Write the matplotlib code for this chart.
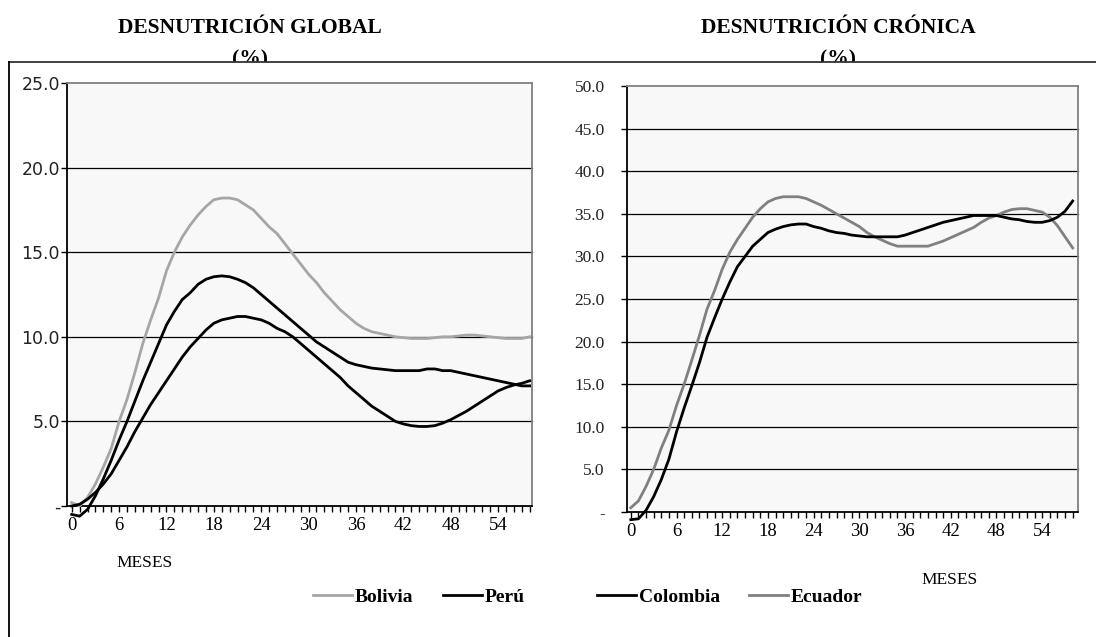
import numpy as np
import matplotlib
matplotlib.use("Agg")
import matplotlib.pyplot as plt
from matplotlib.lines import Line2D
from matplotlib.patches import Rectangle
from matplotlib.ticker import MultipleLocator, FuncFormatter

meses = list(range(0, 59))

# Desnutricion global (%)
bolivia_global = [0.2, 0.0, 0.5, 1.3, 2.3, 3.4, 5.0, 6.3, 7.9, 9.6,
                  11.0, 12.3, 13.9, 15.0, 15.9, 16.6, 17.2, 17.7, 18.1, 18.2,
                  18.2, 18.1, 17.8, 17.5, 17.0, 16.5, 16.1, 15.5, 14.9, 14.3,
                  13.7, 13.2, 12.6, 12.1, 11.6, 11.2, 10.8, 10.5, 10.3, 10.2,
                  10.1, 10.0, 9.95, 9.9, 9.9, 9.9, 9.95, 10.0, 10.0, 10.05,
                  10.1, 10.1, 10.05, 10.0, 9.95, 9.9, 9.9, 9.9, 10.0]
peru_global = [-0.5, -0.6, -0.2, 0.6, 1.6, 2.7, 3.9, 5.0, 6.2, 7.4,
               8.5, 9.6, 10.7, 11.5, 12.2, 12.6, 13.1, 13.4, 13.55, 13.6,
               13.55, 13.4, 13.2, 12.9, 12.5, 12.1, 11.7, 11.3, 10.9, 10.5,
               10.1, 9.7, 9.4, 9.1, 8.8, 8.5, 8.35, 8.25, 8.15, 8.1,
               8.05, 8.0, 8.0, 8.0, 8.0, 8.1, 8.1, 8.0, 8.0, 7.9,
               7.8, 7.7, 7.6, 7.5, 7.4, 7.3, 7.2, 7.1, 7.1]
colombia_global = [0.0, 0.1, 0.4, 0.8, 1.3, 1.9, 2.7, 3.5, 4.4, 5.2,
                   6.0, 6.7, 7.4, 8.1, 8.8, 9.4, 9.9, 10.4, 10.8, 11.0,
                   11.1, 11.2, 11.2, 11.1, 11.0, 10.8, 10.5, 10.3, 10.0, 9.6,
                   9.2, 8.8, 8.4, 8.0, 7.6, 7.1, 6.7, 6.3, 5.9, 5.6,
                   5.3, 5.0, 4.85, 4.75, 4.7, 4.7, 4.75, 4.9, 5.1, 5.35,
                   5.6, 5.9, 6.2, 6.5, 6.8, 7.0, 7.15, 7.25, 7.4]

# Desnutricion cronica (%)
ecuador_cronica = [0.5, 1.3, 3.0, 5.0, 7.5, 9.6, 12.5, 15.0, 17.8, 20.7,
                   23.8, 26.0, 28.5, 30.5, 32.0, 33.3, 34.6, 35.6, 36.4, 36.8,
                   37.0, 37.0, 37.0, 36.8, 36.4, 36.0, 35.5, 35.0, 34.5, 34.0,
                   33.5, 32.8, 32.3, 31.9, 31.5, 31.2, 31.2, 31.2, 31.2, 31.2,
                   31.5, 31.8, 32.2, 32.6, 33.0, 33.4, 34.0, 34.5, 34.8, 35.2,
                   35.5, 35.6, 35.6, 35.4, 35.2, 34.6, 33.6, 32.3, 31.0]
colombia_cronica = [-0.9, -0.8, 0.2, 1.8, 3.8, 6.2, 9.4, 12.2, 14.8, 17.5,
                    20.5, 22.8, 25.0, 27.0, 28.8, 30.0, 31.2, 32.0, 32.8, 33.2,
                    33.5, 33.7, 33.8, 33.8, 33.5, 33.3, 33.0, 32.8, 32.7, 32.5,
                    32.4, 32.3, 32.3, 32.3, 32.3, 32.3, 32.5, 32.8, 33.1, 33.4,
                    33.7, 34.0, 34.2, 34.4, 34.6, 34.8, 34.8, 34.8, 34.8, 34.6,
                    34.4, 34.3, 34.1, 34.0, 34.0, 34.2, 34.6, 35.3, 36.5]

xticks = [0, 6, 12, 18, 24, 30, 36, 42, 48, 54]

W, H = 1096, 637
fig = plt.figure(figsize=(W / 100, H / 100), dpi=100)
serif = "Liberation Serif"

def fx(px):
    return px / W

def fy(py):
    return 1 - py / H

def dash_fmt(v, pos):
    if abs(v) < 1e-9:
        return "-"
    return "%.1f" % v

def style_axes(ax, ymax, ystep, yfont, ypad):
    ax.set_facecolor("#F8F8F8")
    ax.set_ylim(0, ymax)
    ax.set_yticks(np.arange(0, ymax + 0.01, ystep))
    ax.yaxis.set_major_formatter(FuncFormatter(dash_fmt))
    for v in np.arange(ystep, ymax, ystep):
        ax.axhline(v, color="black", lw=0.9, zorder=1)
    ax.set_xticks(xticks)
    ax.xaxis.set_minor_locator(MultipleLocator(1))
    ax.tick_params(axis="x", which="both", direction="out", length=4, width=1, pad=4)
    ax.tick_params(axis="y", direction="out", length=4, width=1, pad=ypad)
    for lab in ax.get_xticklabels():
        lab.set_fontfamily(serif)
        lab.set_fontsize(13.5)
    for lab in ax.get_yticklabels():
        lab.set_fontfamily(yfont)
        lab.set_fontsize(12.5)
        lab.set_color("#222222")
    ax.spines["left"].set_color("black")
    ax.spines["bottom"].set_color("black")
    ax.spines["top"].set_color("#808080")
    ax.spines["right"].set_color("#808080")
    for s in ax.spines.values():
        s.set_linewidth(1.3)

# panel izquierdo
ax1 = fig.add_axes([fx(67), fy(506), fx(532 - 67), (506 - 83) / H], zorder=3)
l_bol, = ax1.plot(meses, bolivia_global, color="#A6A6A6", lw=2, zorder=4)
l_per, = ax1.plot(meses, peru_global, color="black", lw=2, zorder=5)
ax1.plot(meses, colombia_global, color="black", lw=2, zorder=5)
ax1.set_xlim(-0.6, 58.3)
style_axes(ax1, 25, 5, "DejaVu Sans", 1)

# panel derecho
ax2 = fig.add_axes([fx(627), fy(512), fx(1078 - 627), (512 - 86) / H], zorder=3)
l_ecu, = ax2.plot(meses, ecuador_cronica, color="#808080", lw=2, zorder=4)
l_col, = ax2.plot(meses, colombia_cronica, color="black", lw=2, zorder=5)
ax2.set_xlim(-0.5, 58.7)
style_axes(ax2, 50, 5, serif, 12)
for ax in (ax1, ax2):
    for ln in ax.get_lines():
        ln.set_clip_on(False)

# titulos
fig.text(fx(250), fy(28), "DESNUTRICIÓN GLOBAL", ha="center", va="center",
         family=serif, weight="bold", fontsize=15.5, zorder=1)
fig.text(fx(250), fy(59), "(%)", ha="center", va="center",
         family=serif, weight="bold", fontsize=15.5, zorder=1)
fig.text(fx(838), fy(28), "DESNUTRICIÓN CRÓNICA", ha="center", va="center",
         family=serif, weight="bold", fontsize=15.5, zorder=1)
fig.text(fx(838), fy(59), "(%)", ha="center", va="center",
         family=serif, weight="bold", fontsize=15.5, zorder=1)

# marco del grafico
fig.add_artist(Rectangle((fx(9), 0), 1 - fx(9), fy(62), facecolor="white",
                         edgecolor="none", zorder=2, transform=fig.transFigure))
fig.add_artist(Line2D([fx(9), 1], [fy(62), fy(62)], color="#333333", lw=1.3,
                      zorder=2.5, transform=fig.transFigure))
fig.add_artist(Line2D([fx(9), fx(9)], [fy(62), 0], color="black", lw=1.3,
                      zorder=2.5, transform=fig.transFigure))

fig.text(fx(145), fy(563), "MESES", ha="center", va="center", family=serif,
         fontsize=12.5, zorder=3)
fig.text(fx(950), fy(580), "MESES", ha="center", va="center", family=serif,
         fontsize=12.5, zorder=3)

leg_font = {"family": serif, "weight": "bold", "size": 14}
leg1 = fig.legend([l_bol, l_per], ["Bolivia", "Perú"], loc="center",
                  bbox_to_anchor=(fx(419), fy(597)), ncol=2, frameon=False,
                  prop=leg_font, handlelength=2.0, handletextpad=0.15,
                  columnspacing=1.5)
leg1.set_zorder(4)
leg2 = fig.legend([l_col, l_ecu], ["Colombia", "Ecuador"], loc="center",
                  bbox_to_anchor=(fx(730), fy(597)), ncol=2, frameon=False,
                  prop=leg_font, handlelength=2.0, handletextpad=0.15,
                  columnspacing=1.5)
leg2.set_zorder(4)

fig.savefig("out.png", dpi=100)
